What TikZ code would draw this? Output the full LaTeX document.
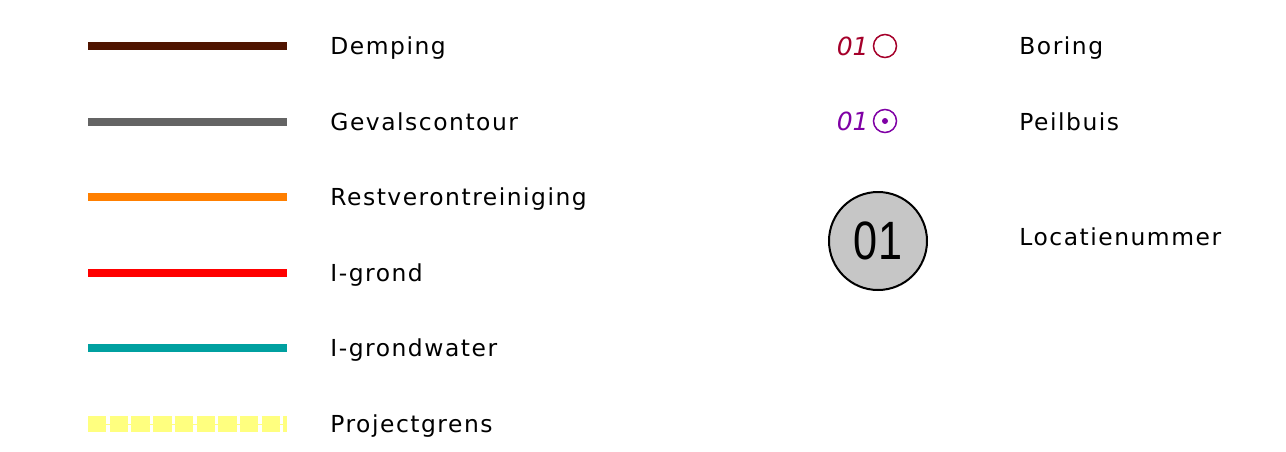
\documentclass[tikz,border=0pt]{standalone}
\usepackage{fontspec}
\setmainfont{DejaVu Sans}[LetterSpace=6.5]
\newfontfamily\symfont{DejaVu Sans}
\newfontfamily\numfont{Liberation Sans}
\definecolor{cdemping}{HTML}{4F1400}
\definecolor{cgeval}{HTML}{646464}
\definecolor{crest}{HTML}{FF7F00}
\definecolor{cigrond}{HTML}{FF0000}
\definecolor{cigw}{HTML}{00A0A0}
\definecolor{cproj}{HTML}{FFFF7F}
\definecolor{cboring}{HTML}{A5002A}
\definecolor{cpeil}{HTML}{7F00A5}
\definecolor{cloc}{HTML}{C6C6C6}
\begin{document}
\begin{tikzpicture}[x=0.5pt,y=-0.5pt,
  legline/.style={line width=4pt},
  legtext/.style={anchor=base west,inner sep=0pt,font=\fontsize{11.7}{14}\selectfont},
  symnum/.style={anchor=base east,inner sep=0pt,font=\symfont\itshape\fontsize{12.5}{14}\selectfont},
  symcirc/.style={circle,draw,line width=0.75pt,minimum size=11.5pt,inner sep=0pt},
  symdot/.style={circle,fill,minimum size=3pt,inner sep=0pt}]
\useasboundingbox (0,0) rectangle (1286,451);
% left column
\coordinate (a1) at (88,46);  \coordinate (b1) at (287,46);
\coordinate (a2) at (88,121.5); \coordinate (b2) at (287,121.5);
\coordinate (a3) at (88,197); \coordinate (b3) at (287,197);
\coordinate (a4) at (88,272.5); \coordinate (b4) at (287,272.5);
\coordinate (a5) at (88,348); \coordinate (b5) at (287,348);
\coordinate (a6) at (88,424); \coordinate (b6) at (287,424);
\draw[legline,cdemping] (a1) -- (b1);
\draw[legline,cgeval] (a2) -- (b2);
\draw[legline,crest] (a3) -- (b3);
\draw[legline,cigrond] (a4) -- (b4);
\draw[legline,cigw] (a5) -- (b5);
\draw[line width=0.5pt,cproj] (a6) -- (b6);
\draw[line width=8pt,cproj,dash pattern=on 9.2pt off 1.65pt] (a6) -- (b6);
\node[legtext] (t1) at (330,54.5) {Demping};
\node[legtext] (t2) at (330,130) {Gevalscontour};
\node[legtext] (t3) at (330,205.5) {Restverontreiniging};
\node[legtext] (t4) at (330,281) {I-grond};
\node[legtext] (t5) at (330,356.5) {I-grondwater};
\node[legtext] (t6) at (330,432.5) {Projectgrens};
% right column
\node[symnum,cboring] (n1) at (869,55.5) {01};
\node[symcirc,cboring] (c1) at (885,46) {};
\node[symnum,cpeil] (n2) at (869,130.5) {01};
\node[symcirc,cpeil] (c2) at (885,121) {};
\node[symdot,cpeil] (d2) at (c2.center) {};
\node[circle,draw=black,fill=cloc,line width=1pt,minimum size=49pt,inner sep=0pt] (loc) at (878,241) {};
\node[inner sep=0pt,font=\numfont\fontsize{27}{27}\selectfont] (locnum) at (loc.center) {\scalebox{0.8}[1]{01}};
\node[legtext] (r1) at (1019,54.5) {Boring};
\node[legtext] (r2) at (1019,130) {Peilbuis};
\node[legtext] (r3) at (1019,245.5) {Locatienummer};
\end{tikzpicture}
\end{document}
